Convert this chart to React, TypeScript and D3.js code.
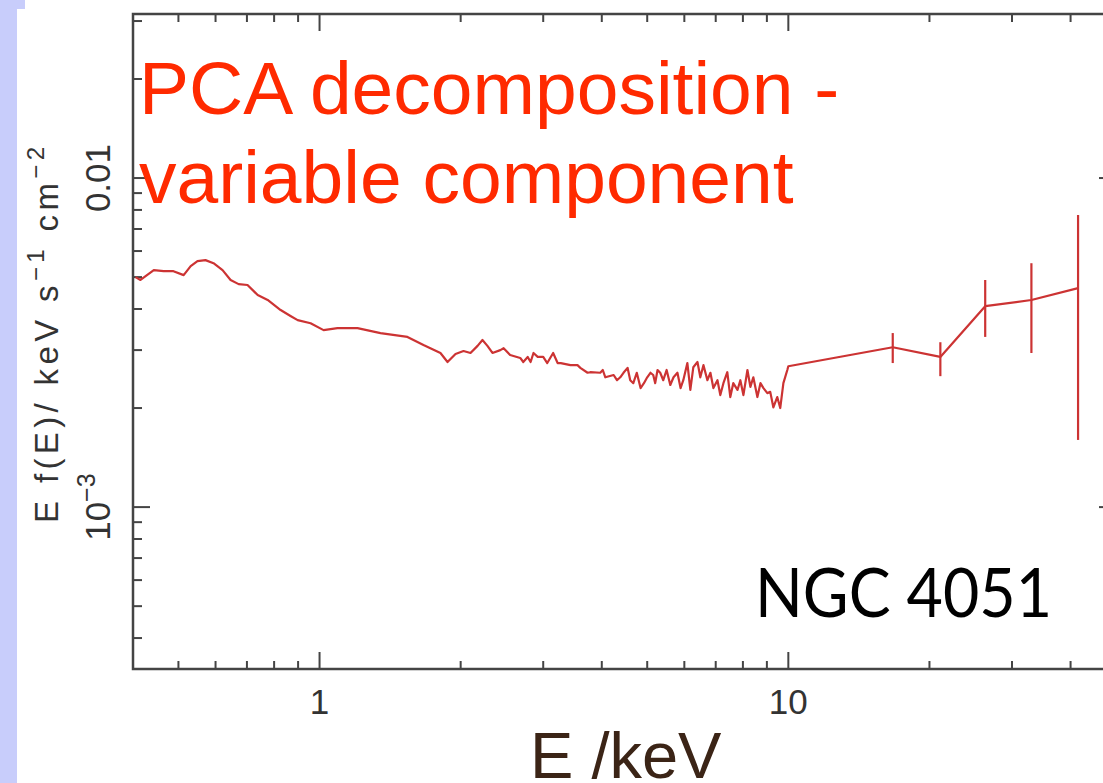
import React, { useRef, useEffect } from 'react';
import * as d3 from 'd3';

// spectrum: energy (keV) and E f(E) (keV s^-1 cm^-2)
const energies = [
  0.405, 0.415, 0.443, 0.465, 0.488, 0.513, 0.531, 0.549, 0.571, 0.594,
  0.621, 0.646, 0.672, 0.702, 0.738, 0.775, 0.826, 0.867, 0.898, 0.957,
  1.02, 1.092, 1.205, 1.349, 1.54, 1.666, 1.811, 1.875, 1.95, 2.028,
  2.099, 2.173, 2.226, 2.281, 2.338, 2.43, 2.47, 2.55, 2.68, 2.72,
  2.78, 2.82, 2.86, 2.92, 3.0, 3.06, 3.15, 3.22, 3.27, 3.43,
  3.55, 3.6, 3.73, 3.78, 3.97, 4.02, 4.07, 4.24, 4.31, 4.38,
  4.45, 4.54, 4.6, 4.67, 4.75, 4.84, 4.92, 5.0, 5.08, 5.15,
  5.2, 5.26, 5.33, 5.41, 5.5, 5.6, 5.69, 5.8, 5.89, 5.97,
  6.09, 6.18, 6.27, 6.4, 6.49, 6.59, 6.72, 6.82, 6.92, 7.06,
  7.16, 7.27, 7.41, 7.52, 7.63, 7.79, 7.9, 8.02, 8.18, 8.3,
  8.42, 8.59, 8.72, 8.85, 9.02, 9.15, 9.29, 9.47, 9.61, 9.76,
  9.95, 10.0,
];
const flux = [
  5.0e-3, 4.9e-3, 5.25e-3, 5.21e-3, 5.21e-3, 5.07e-3, 5.4e-3, 5.59e-3, 5.63e-3, 5.51e-3,
  5.25e-3, 4.9e-3, 4.76e-3, 4.73e-3, 4.41e-3, 4.26e-3, 3.97e-3, 3.81e-3, 3.7e-3, 3.62e-3,
  3.45e-3, 3.5e-3, 3.5e-3, 3.38e-3, 3.29e-3, 3.11e-3, 2.94e-3, 2.76e-3, 2.92e-3, 2.98e-3,
  2.94e-3, 3.09e-3, 3.22e-3, 3.09e-3, 2.94e-3, 3.0e-3, 3.04e-3, 2.9e-3, 2.84e-3, 2.76e-3,
  2.86e-3, 2.76e-3, 2.94e-3, 2.86e-3, 2.86e-3, 2.74e-3, 2.94e-3, 2.74e-3, 2.74e-3, 2.7e-3,
  2.7e-3, 2.65e-3, 2.56e-3, 2.57e-3, 2.56e-3, 2.61e-3, 2.48e-3, 2.52e-3, 2.43e-3, 2.48e-3,
  2.56e-3, 2.65e-3, 2.43e-3, 2.38e-3, 2.56e-3, 2.3e-3, 2.38e-3, 2.48e-3, 2.56e-3, 2.52e-3,
  2.38e-3, 2.61e-3, 2.56e-3, 2.43e-3, 2.61e-3, 2.35e-3, 2.48e-3, 2.56e-3, 2.3e-3, 2.43e-3,
  2.74e-3, 2.27e-3, 2.66e-3, 2.76e-3, 2.48e-3, 2.7e-3, 2.43e-3, 2.56e-3, 2.3e-3, 2.43e-3,
  2.19e-3, 2.38e-3, 2.57e-3, 2.16e-3, 2.38e-3, 2.27e-3, 2.43e-3, 2.19e-3, 2.61e-3, 2.32e-3,
  2.48e-3, 2.16e-3, 2.38e-3, 2.3e-3, 2.22e-3, 2.24e-3, 2.01e-3, 2.16e-3, 2.0e-3, 2.38e-3,
  2.61e-3, 2.68e-3,
];

// binned high-energy points with error bars
const hiEnergies = [16.7, 21.1, 26.3, 33.0, 41.5];
const hiFlux = [3.06e-3, 2.86e-3, 4.08e-3, 4.26e-3, 4.63e-3];
const hiLow = [2.74e-3, 2.5e-3, 3.29e-3, 2.94e-3, 1.6e-3];
const hiHigh = [3.38e-3, 3.17e-3, 4.9e-3, 5.51e-3, 7.72e-3];

const xDomain = [0.4, 50];
const yDomain = [Math.pow(10, -3.492), Math.pow(10, -1.5015)];
const xTickLabels = [
  { value: 1, label: '1' },
  { value: 10, label: '10' },
];
const yTickLabels = [
  { value: 1e-3, base: '10', sup: '\u22123' },
  { value: 1e-2, base: '0.01', sup: '' },
];

const titleLines = ['PCA decomposition -', 'variable component'];
const sourceName = 'NGC 4051';
const xTitle = 'E /keV';

const AXIS_FONT = 'Liberation Sans, Arial, Helvetica, sans-serif';

function SpectrumChart({ width = 1103, height = 783 }) {
  const svgRef = useRef(null);

  useEffect(() => {
    const root = d3.select(svgRef.current);
    root.selectAll('*').remove();

    // plot frame
    const frame = { left: 133, top: 14, right: 1116, bottom: 669 };

    const xScale = d3.scaleLog().domain(xDomain).range([frame.left, frame.right]);
    const yScale = d3.scaleLog().domain(yDomain).range([frame.bottom, frame.top]);

    root.attr('width', width).attr('height', height);

    // lavender slide edge
    root.append('rect').attr('x', 0).attr('y', 0).attr('width', 17).attr('height', height).attr('fill', '#c8cdfb');
    root.append('rect').attr('x', 0).attr('y', 0).attr('width', 25).attr('height', 9).attr('fill', '#c8cdfb');

    const axisColor = '#444';
    const isMajor = (v: number) => Math.abs(Math.log10(v) - Math.round(Math.log10(v))) < 1e-6;

    // ticks on all four sides, pointing inward
    const ticksG = root.append('g').attr('stroke', axisColor).attr('stroke-width', 2);
    xScale.ticks().filter((t: number) => t > xDomain[0] && t < xDomain[1]).forEach((t: number) => {
      const len = isMajor(t) ? 17 : 8;
      const x = xScale(t);
      ticksG.append('line').attr('x1', x).attr('x2', x).attr('y1', frame.bottom).attr('y2', frame.bottom - len);
      ticksG.append('line').attr('x1', x).attr('x2', x).attr('y1', frame.top).attr('y2', frame.top + len);
    });
    yScale.ticks().filter((t: number) => t > yDomain[0] && t < yDomain[1]).forEach((t: number) => {
      const len = isMajor(t) ? 17 : 9;
      const y = yScale(t);
      ticksG.append('line').attr('x1', frame.left).attr('x2', frame.left + len).attr('y1', y).attr('y2', y);
      ticksG.append('line').attr('x1', frame.right).attr('x2', frame.right - len).attr('y1', y).attr('y2', y);
    });

    root.append('rect')
      .attr('x', frame.left)
      .attr('y', frame.top)
      .attr('width', frame.right - frame.left)
      .attr('height', frame.bottom - frame.top)
      .attr('fill', 'none')
      .attr('stroke', axisColor)
      .attr('stroke-width', 2.5);

    // tick labels
    xTickLabels.forEach(d => {
      root.append('text')
        .attr('x', xScale(d.value))
        .attr('y', 714)
        .attr('text-anchor', 'middle')
        .style('font-family', AXIS_FONT)
        .style('font-size', '35px')
        .attr('fill', '#333')
        .text(d.label);
    });
    yTickLabels.forEach(d => {
      const t = root.append('text')
        .attr('transform', 'rotate(-90)')
        .attr('x', -yScale(d.value))
        .attr('y', 110)
        .attr('text-anchor', 'middle')
        .style('font-family', AXIS_FONT)
        .style('font-size', '35px')
        .attr('fill', '#333');
      t.append('tspan').text(d.base);
      if (d.sup) {
        t.append('tspan').attr('dy', -15).style('font-size', '25px').text(d.sup);
      }
    });

    // y-axis title
    const yTitle = root.append('text')
      .attr('transform', 'rotate(-90)')
      .attr('x', -523)
      .attr('y', 58)
      .attr('textLength', 376)
      .attr('lengthAdjust', 'spacing')
      .style('font-family', AXIS_FONT)
      .style('font-size', '33px')
      .attr('fill', '#333');
    yTitle.append('tspan').text('E f(E)/  keV  s');
    yTitle.append('tspan').attr('dy', -14).style('font-size', '24px').text('\u22121');
    yTitle.append('tspan').attr('dy', 14).text('  cm');
    yTitle.append('tspan').attr('dy', -14).style('font-size', '24px').text('\u22122');

    // spectrum
    const allE = energies.concat(hiEnergies);
    const allF = flux.concat(hiFlux);
    const points = allE.map((e, i) => [e, allF[i]] as [number, number]);

    const line = d3.line<[number, number]>()
      .x(d => xScale(d[0]))
      .y(d => yScale(d[1]));

    const plot = root.append('g');
    plot.append('path')
      .datum(points)
      .attr('d', line)
      .attr('fill', 'none')
      .attr('stroke', '#cc3333')
      .attr('stroke-width', 2.2)
      .attr('stroke-linejoin', 'round');

    plot.selectAll('.err')
      .data(hiEnergies)
      .enter()
      .append('line')
      .attr('class', 'err')
      .attr('x1', d => xScale(d))
      .attr('x2', d => xScale(d))
      .attr('y1', (d, i) => yScale(hiLow[i]))
      .attr('y2', (d, i) => yScale(hiHigh[i]))
      .attr('stroke', '#cc3333')
      .attr('stroke-width', 2.2);

    // annotations
    titleLines.forEach((txt, i) => {
      root.append('text')
        .attr('x', 139)
        .attr('y', 114 + i * 89)
        .style('font-family', AXIS_FONT)
        .style('font-size', '75px')
        .attr('fill', '#ff2a00')
        .text(txt);
    });

    root.append('text')
      .attr('x', 1052)
      .attr('y', 617)
      .attr('text-anchor', 'end')
      .attr('textLength', 297)
      .attr('lengthAdjust', 'spacingAndGlyphs')
      .style('font-family', 'Gill Sans, Lato, sans-serif')
      .style('font-size', '68px')
      .attr('fill', '#000')
      .text(sourceName);

    root.append('text')
      .attr('x', 530)
      .attr('y', 778)
      .style('font-family', AXIS_FONT)
      .style('font-size', '65px')
      .attr('fill', '#3b2416')
      .text(xTitle);
  }, [width, height]);

  return (
    <svg ref={svgRef} style={{ position: 'absolute', left: 0, top: 0, background: '#fff' }}></svg>
  );
}

export default function App() {
  return <SpectrumChart />;
}
